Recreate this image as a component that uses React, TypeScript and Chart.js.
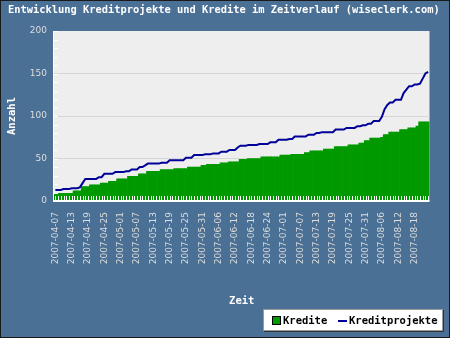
import React, { useEffect, useRef } from "react";
import { Chart, registerables } from "chart.js";

Chart.register(...registerables);

const TITLE = "Entwicklung Kreditprojekte und Kredite im Zeitverlauf (wiseclerk.com)";
const Y_TITLE = "Anzahl";
const X_TITLE = "Zeit";
const SERIES_NAMES = ["Kredite", "Kreditprojekte"];
const FIRST_DAY = "2007-04-07";
const MISSING_DAYS = ["2007-06-30"];
const LABEL_EVERY = 6;
const Y_MAX = 200;
const Y_STEP = 50;
const Y_MINOR_STEP = 10;

const KREDITE = [
  9, 9, 9, 9, 9, 9, 9,
  12, 12, 12,
  17, 17, 17,
  19, 19, 19, 19,
  21, 21, 21,
  23, 23, 23,
  26, 26, 26, 26,
  29, 29, 29, 29,
  32, 32, 32,
  35, 35, 35, 35, 35,
  37, 37, 37, 37, 37,
  38, 38, 38, 38, 38,
  40, 40, 40, 40, 40,
  42, 42,
  43, 43, 43, 43, 43,
  45, 45, 45,
  46, 46, 46, 46,
  49, 49, 49,
  50, 50, 50, 50, 50,
  52, 52, 52, 52, 52, 52, 52,
  54, 54, 54, 54,
  55, 55, 55, 55, 55,
  57, 57,
  59, 59, 59, 59, 59,
  61, 61, 61, 61,
  64, 64, 64, 64, 64,
  66, 66, 66, 66,
  68, 68,
  71, 71,
  74, 74, 74, 74,
  75,
  78, 78,
  81, 81, 81, 81,
  84, 84, 84,
  86, 86, 86,
  88,
  93, 93, 93, 93,
];

const KREDITPROJEKTE = [
  13, 13, 13,
  14, 14, 14,
  15, 15, 15,
  16,
  21,
  26, 26, 26, 26, 26,
  28, 28,
  32, 32, 32, 32,
  34, 34, 34, 34,
  35, 35,
  37, 37, 37,
  40, 40,
  42,
  44, 44, 44, 44, 44,
  45, 45, 45,
  48, 48, 48, 48, 48, 48,
  51, 51, 51,
  54, 54, 54, 54,
  55, 55, 55,
  56, 56, 56,
  58, 58, 58,
  60, 60, 60,
  63,
  65, 65, 65,
  66, 66, 66, 66,
  67, 67, 67, 67,
  69, 69, 69,
  72, 72, 72, 72,
  73, 73,
  76, 76, 76, 76, 76,
  78, 78, 78,
  80, 80,
  81, 81, 81, 81, 81,
  84, 84, 84, 84,
  86, 86, 86, 86,
  88, 88,
  89, 89,
  91, 91,
  94, 94, 94,
  99,
  108,
  113,
  116, 116,
  119, 119, 119,
  127,
  131,
  135, 135,
  137, 137,
  138,
  144,
  150,
  152,
];

function buildDays(count: number): string[] {
  const out: string[] = [];
  const d = new Date(FIRST_DAY + "T00:00:00Z");
  while (out.length < count) {
    const s = d.toISOString().slice(0, 10);
    if (!MISSING_DAYS.includes(s)) out.push(s);
    d.setUTCDate(d.getUTCDate() + 1);
  }
  return out;
}
const DAYS = buildDays(KREDITE.length);

const BG = "#4b7095";
const PLOT_BG = "#eeeeee";
const GREEN = "#009900";
const NAVY = "#000099";
const MONO = "'DejaVu Sans Mono', 'Liberation Mono', monospace";
const SANS = "'DejaVu Sans', Verdana, sans-serif";

const decor = {
  id: "decor",
  beforeDraw(chart: any) {
    const { ctx, width, height, chartArea: a } = chart;
    ctx.save();
    ctx.fillStyle = BG;
    ctx.fillRect(0, 0, width, height);
    ctx.fillStyle = PLOT_BG;
    ctx.fillRect(a.left, a.top, a.right - a.left, a.bottom - a.top);
    ctx.restore();
  },
  afterDatasetsDraw(chart: any) {
    const { ctx, chartArea: a } = chart;
    const xs = chart.scales.x;
    const ys = chart.scales.y;
    ctx.save();
    ctx.strokeStyle = "#ffffff";
    ctx.lineWidth = 1;
    ctx.beginPath();
    for (let i = 0; i < DAYS.length; i++) {
      const px = Math.round(xs.getPixelForValue(i)) + 0.5;
      ctx.moveTo(px, a.bottom);
      ctx.lineTo(px, a.bottom - 5);
    }
    for (let v = 0; v <= Y_MAX; v += Y_MINOR_STEP) {
      const py = Math.round(ys.getPixelForValue(v)) + 0.5;
      ctx.moveTo(a.left, py);
      ctx.lineTo(a.left + 4, py);
    }
    ctx.stroke();
    ctx.fillStyle = "#ffffff";
    ctx.fillRect(a.left - 1, a.bottom - 1, a.right - a.left + 1, 2);
    ctx.fillRect(a.left - 1, a.top, 1, a.bottom - a.top);
    ctx.restore();
  },
  afterDraw(chart: any) {
    const { ctx, width, height } = chart;
    ctx.save();
    // title
    ctx.fillStyle = "#ffffff";
    ctx.font = `bold 10.4px ${MONO}`;
    ctx.textBaseline = "middle";
    ctx.textAlign = "left";
    ctx.fillText(TITLE, 8, 10);
    // legend box
    const lx = 263, ly = 309, lw = 180, lh = 22;
    ctx.fillStyle = "#ffffff";
    ctx.fillRect(lx, ly, lw, lh);
    ctx.strokeStyle = "#9a9a9a";
    ctx.lineWidth = 1;
    ctx.strokeRect(lx + 0.5, ly + 0.5, lw - 1, lh - 1);
    ctx.strokeStyle = "#333333";
    ctx.beginPath();
    ctx.moveTo(lx + lw + 0.5, ly + 1);
    ctx.lineTo(lx + lw + 0.5, ly + lh + 0.5);
    ctx.lineTo(lx + 1, ly + lh + 0.5);
    ctx.stroke();
    const ds = chart.data.datasets;
    const cy = ly + 12;
    ctx.fillStyle = GREEN;
    ctx.fillRect(273, cy - 4, 7, 7);
    ctx.strokeStyle = "#000000";
    ctx.strokeRect(272.5, cy - 4.5, 8, 8);
    ctx.fillStyle = "#000000";
    ctx.font = `bold 10.5px ${MONO}`;
    ctx.fillText(ds[1].label, 283, cy);
    ctx.strokeStyle = NAVY;
    ctx.lineWidth = 2;
    ctx.beginPath();
    ctx.moveTo(338, cy);
    ctx.lineTo(347, cy);
    ctx.stroke();
    ctx.fillText(ds[0].label, 349, cy);
    // outer border
    ctx.strokeStyle = "#1a1a1a";
    ctx.lineWidth = 1;
    ctx.strokeRect(0.5, 0.5, width - 1, height - 1);
    ctx.restore();
  },
};

export default function App() {
  const ref = useRef<HTMLCanvasElement>(null);
  useEffect(() => {
    document.body.style.margin = "0";
    const canvas = ref.current!;
    const chart = new Chart(canvas, {
      data: {
        labels: DAYS,
        datasets: [
          {
            type: "line",
            label: SERIES_NAMES[1],
            data: KREDITPROJEKTE,
            borderColor: NAVY,
            backgroundColor: NAVY,
            borderWidth: 2,
            pointRadius: 0,
            tension: 0,
            fill: false,
            order: 0,
          },
          {
            type: "bar",
            label: SERIES_NAMES[0],
            data: KREDITE,
            backgroundColor: GREEN,
            borderWidth: 0,
            barPercentage: 1,
            categoryPercentage: 1,
            order: 1,
          },
        ],
      } as any,
      options: {
        responsive: false,
        animation: false,
        devicePixelRatio: 1,
        layout: { padding: { top: 31, right: 17, left: 0, bottom: 0 } },
        plugins: {
          legend: { display: false },
          title: { display: false },
          tooltip: { enabled: false },
        },
        scales: {
          x: {
            offset: true,
            grid: { display: false, drawTicks: false },
            border: { display: false },
            ticks: {
              autoSkip: false,
              minRotation: 90,
              maxRotation: 90,
              padding: 11,
              color: "#dddddd",
              font: { family: SANS, size: 9 },
              callback: (_v: any, i: number) => (i % LABEL_EVERY === 0 ? DAYS[i] : ""),
            },
            title: {
              display: true,
              text: X_TITLE,
              color: "#ffffff",
              font: { family: MONO, size: 10.5, weight: "bold" },
              padding: { top: 0, bottom: 30 },
            },
            afterFit: (s: any) => {
              s.height = 137;
            },
          },
          y: {
            min: 0,
            max: Y_MAX,
            grid: {
              drawTicks: false,
              color: (c: any) =>
                c.tick && (c.tick.value === 0 || c.tick.value === Y_MAX) ? "rgba(0,0,0,0)" : "#d6d6d6",
            },
            border: { display: false },
            ticks: {
              stepSize: Y_STEP,
              padding: 7,
              color: "#dddddd",
              font: { family: SANS, size: 9 },
            },
            title: {
              display: true,
              text: Y_TITLE,
              color: "#ffffff",
              font: { family: MONO, size: 10.5, weight: "bold" },
              padding: { top: 6, bottom: 0 },
            },
            afterFit: (s: any) => {
              s.width = 54;
            },
          },
        },
      } as any,
      plugins: [decor],
    });
    return () => chart.destroy();
  }, []);
  return (
    <canvas
      ref={ref}
      width={450}
      height={338}
      style={{ display: "block", width: 450, height: 338 }}
    />
  );
}
